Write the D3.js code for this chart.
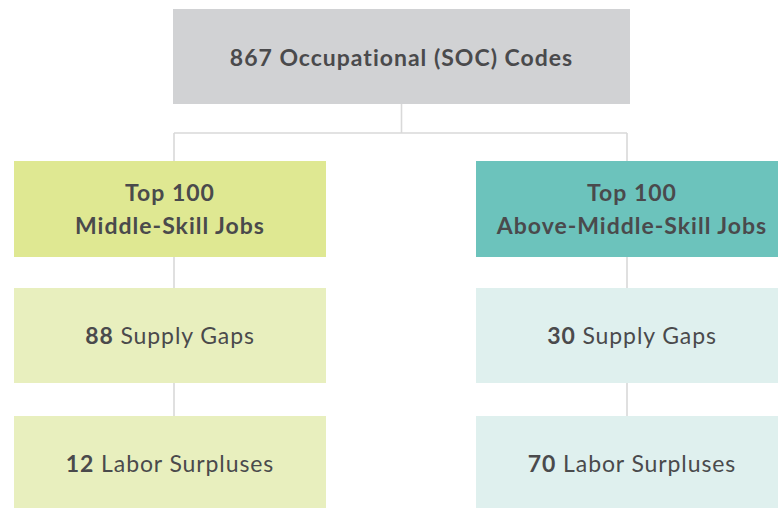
<!DOCTYPE html>
<html>
<head>
<meta charset="utf-8">
<script src="https://cdn.jsdelivr.net/npm/d3@7"></script>
<style>
  html, body { margin: 0; padding: 0; background: #ffffff; overflow: hidden; }
  svg { display: block; }
  text { font-family: "Lato", "DejaVu Sans", sans-serif; fill: #4a4a4c; }
</style>
</head>
<body>
<svg id="tree" width="778" height="508"></svg>
<script>
  const rootTitle = "867 Occupational (SOC) Codes";
  const groupTop = ["Top 100", "Top 100"];
  const groupNames = ["Middle-Skill Jobs", "Above-Middle-Skill Jobs"];
  const supplyGaps = [88, 30];
  const laborSurpluses = [12, 70];
  const leafLabels = ["Supply Gaps", "Labor Surpluses"];

  const groupColors = ["#dfe892", "#6cc3bc"];
  const leafColors = ["#e8efbe", "#dff0ee"];
  const rootColor = "#d1d2d4";
  const lineColor = "#d9d9d9";

  const svg = d3.select("#tree");

  // row tops by depth, column lefts by group
  const rowY = d3.scaleOrdinal().domain([0, 1, 2, 3]).range([9, 161, 288, 416]);
  const rowH = d3.scaleOrdinal().domain([0, 1, 2, 3]).range([95, 96, 95, 95]);
  const colX = d3.scaleOrdinal().domain([0, 1]).range([14, 476]);
  const boxW = 312;
  const rootX = 173;
  const rootW = 457;
  const stemX = d3.scaleOrdinal().domain([0, 1]).range([174, 627]);
  const rootMid = rootX + rootW / 2;
  const busY = 133;
  const fontSize = 23;

  const links = svg.append("g")
    .attr("stroke", lineColor)
    .attr("stroke-width", 1.6)
    .attr("fill", "none");

  links.append("line")
    .attr("x1", rootMid).attr("x2", rootMid)
    .attr("y1", rowY(0) + rowH(0)).attr("y2", busY);
  links.append("line")
    .attr("x1", stemX(0)).attr("x2", stemX(1))
    .attr("y1", busY).attr("y2", busY);

  [0, 1].forEach((g) => {
    links.append("line")
      .attr("x1", stemX(g)).attr("x2", stemX(g))
      .attr("y1", busY).attr("y2", rowY(1));
    [1, 2].forEach((d) => {
      links.append("line")
        .attr("x1", stemX(g)).attr("x2", stemX(g))
        .attr("y1", rowY(d) + rowH(d)).attr("y2", rowY(d + 1));
    });
  });

  // root box
  svg.append("rect")
    .attr("x", rootX).attr("y", rowY(0))
    .attr("width", rootW).attr("height", rowH(0))
    .attr("fill", rootColor);
  svg.append("text")
    .attr("x", rootMid).attr("y", 66)
    .attr("text-anchor", "middle")
    .attr("font-size", fontSize)
    .attr("font-weight", 700)
    .attr("letter-spacing", 1)
    .text(rootTitle);

  // group boxes
  const groups = svg.selectAll("g.group")
    .data(d3.range(groupNames.length))
    .join("g")
    .attr("class", "group");

  groups.append("rect")
    .attr("x", (g) => colX(g)).attr("y", rowY(1))
    .attr("width", boxW).attr("height", rowH(1))
    .attr("fill", (g) => groupColors[g]);

  const gText = groups.append("text")
    .attr("text-anchor", "middle")
    .attr("font-size", fontSize)
    .attr("font-weight", 700)
    .attr("letter-spacing", 1);
  gText.append("tspan")
    .attr("x", (g) => colX(g) + boxW / 2).attr("y", 201)
    .text((g) => groupTop[g]);
  gText.append("tspan")
    .attr("x", (g) => colX(g) + boxW / 2).attr("y", 234)
    .text((g) => groupNames[g]);

  // leaf boxes
  const leaves = [];
  [0, 1].forEach((g) => {
    leaves.push({ g, depth: 2, value: supplyGaps[g], label: leafLabels[0] });
    leaves.push({ g, depth: 3, value: laborSurpluses[g], label: leafLabels[1] });
  });

  const leafG = svg.selectAll("g.leaf")
    .data(leaves)
    .join("g")
    .attr("class", "leaf");

  leafG.append("rect")
    .attr("x", (d) => colX(d.g)).attr("y", (d) => rowY(d.depth))
    .attr("width", boxW).attr("height", (d) => rowH(d.depth))
    .attr("fill", (d) => leafColors[d.g]);

  const lText = leafG.append("text")
    .attr("x", (d) => colX(d.g) + boxW / 2)
    .attr("y", (d) => rowY(d.depth) + 56)
    .attr("text-anchor", "middle")
    .attr("font-size", fontSize)
    .attr("letter-spacing", 0.9);
  lText.append("tspan").attr("font-weight", 700).text((d) => d.value);
  lText.append("tspan").text((d) => " " + d.label);
</script>
</body>
</html>
